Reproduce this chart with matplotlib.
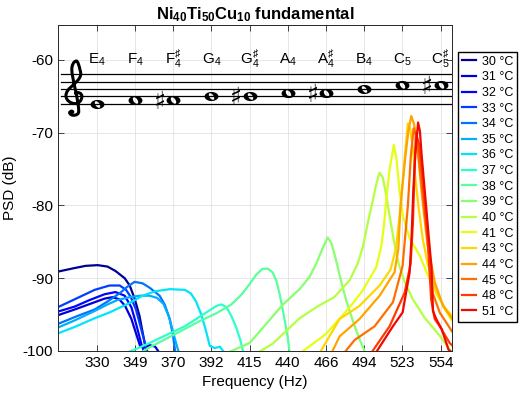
import numpy as np
import matplotlib
matplotlib.use('Agg')
import matplotlib.pyplot as plt
import matplotlib.ticker as ticker
from matplotlib.path import Path
from matplotlib.patches import PathPatch, Ellipse
from matplotlib.transforms import Affine2D

plt.rcParams['font.family'] = ['Liberation Sans', 'DejaVu Sans']
plt.rcParams['axes.unicode_minus'] = False
plt.rcParams['mathtext.fontset'] = 'custom'
plt.rcParams['mathtext.rm'] = 'Liberation Sans'
plt.rcParams['mathtext.bf'] = 'Liberation Sans:bold'
plt.rcParams['mathtext.it'] = 'Liberation Sans:italic'

# --- data ---
temps = [30, 31, 32, 33, 34, 35, 36, 37, 38, 39, 40, 41, 43, 44, 45, 48, 51]

f30 = [310.6, 318.7, 324.0, 330.0, 335.0, 339.0, 343.8, 346.4, 349.0, 351.6, 353.5, 355.5]
p30 = [-89.1, -88.6, -88.3, -88.2, -88.4, -89.0, -90.0, -91.0, -92.8, -95.2, -97.8, -100.5]

f31 = [310.6, 318.7, 328.5, 333.5, 337.5, 341.0, 344.0, 347.3, 350.0, 352.0, 354.3, 357.0, 360.0, 363.0]
p31 = [-95.1, -94.3, -93.3, -92.8, -92.6, -92.9, -93.8, -95.6, -97.8, -99.4, -99.5, -99.2, -99.4, -100.5]

f32 = [310.6, 318.7, 326.0, 333.5, 339.0, 343.8, 347.3, 350.0, 352.5, 354.5]
p32 = [-94.6, -93.9, -93.0, -92.2, -91.9, -92.4, -94.0, -96.5, -99.0, -100.5]

f33 = [310.6, 318.7, 328.5, 336.0, 341.2, 344.5, 347.0, 349.7, 353.0, 356.0]
p33 = [-94.0, -92.9, -91.6, -91.0, -91.0, -91.6, -92.6, -94.3, -97.5, -100.3]

f34 = [310.6, 320.0, 328.5, 335.0, 341.5, 345.0, 349.0, 353.2, 357.0, 362.4, 365.2, 368.0, 369.8, 371.2]
p34 = [-96.3, -95.2, -94.3, -93.2, -92.0, -91.2, -90.5, -90.7, -91.3, -92.4, -93.6, -95.6, -97.8, -100.3]

f35 = [310.6, 318.7, 328.5, 335.0, 340.0, 346.4, 352.0, 357.0, 361.0, 364.5, 367.5, 370.0, 372.0, 373.5]
p35 = [-96.8, -95.8, -94.5, -93.6, -93.0, -92.6, -92.4, -92.4, -92.7, -93.5, -95.2, -97.5, -99.3, -100.5]

f36 = [310.6, 318.7, 328.5, 336.0, 346.4, 353.2, 360.0, 368.0, 376.6, 380.0, 383.0, 386.0, 388.5, 391.0,
       394.0, 397.0, 400.0]
p36 = [-97.6, -96.7, -95.5, -94.7, -93.4, -92.4, -91.8, -91.5, -91.6, -92.1, -93.2, -95.0, -97.0, -99.3,
       -99.6, -99.4, -100.3]

f37 = [344.0, 350.0, 357.0, 367.0, 376.6, 385.0, 391.0, 395.0, 398.0, 401.0, 404.0, 407.0, 409.5, 411.5]
p37 = [-100.3, -99.7, -98.9, -97.7, -96.6, -95.3, -94.4, -93.8, -93.6, -94.0, -95.2, -96.8, -98.5, -100.3]

f38 = [351.6, 357.0, 370.0, 385.0, 395.0, 404.0, 410.0, 415.3, 419.5, 423.5, 427.0, 430.0, 432.5, 434.6,
       436.5, 438.0, 439.8, 441.2]
p38 = [-100.3, -99.5, -97.8, -95.9, -94.8, -93.6, -92.3, -90.8, -89.5, -88.7, -88.7, -89.2, -90.4, -92.2,
       -94.2, -95.9, -98.0, -100.2]

f39 = [401.0, 415.3, 436.8, 447.9, 454.7, 459.3, 463.5, 467.3, 470.0, 473.4, 477.0, 480.7, 484.5, 488.0,
       491.2, 494.1]
p39 = [-100.3, -98.9, -93.6, -91.5, -89.8, -88.0, -86.0, -84.4, -85.2, -87.6, -90.5, -93.1, -95.3, -97.2,
       -98.7, -100.0]

f40 = [420.0, 430.0, 447.9, 460.0, 472.0, 483.1, 489.0, 492.9, 497.0, 500.4, 503.0, 505.5, 508.0, 510.5,
       513.2, 516.5, 519.9, 525.0, 531.6, 541.0, 553.6, 562.0, 566.0]
p40 = [-100.3, -99.0, -95.5, -93.9, -92.6, -90.3, -88.0, -85.7, -82.0, -79.3, -77.0, -75.5, -76.2, -78.5,
       -81.4, -84.8, -87.8, -90.5, -92.9, -95.4, -97.9, -99.8, -100.5]

f41 = [448.9, 465.9, 483.1, 492.7, 502.9, 506.9, 509.0, 510.6, 513.2, 516.5, 518.5, 521.0, 523.6, 529.0,
       537.1, 543.6, 550.7, 557.8, 563.6, 566.0]
p41 = [-100.2, -97.7, -94.0, -91.7, -88.5, -85.5, -82.5, -79.3, -75.0, -71.7, -73.5, -78.0, -81.4, -84.5,
       -86.9, -89.5, -92.0, -94.2, -95.8, -96.2]

f43 = [461.6, 475.8, 490.4, 505.5, 514.0, 518.0, 521.0, 523.4, 525.5, 527.6, 529.5, 531.5, 533.5, 536.0,
       539.5, 543.6, 550.7, 557.8, 566.0]
p43 = [-100.3, -95.6, -93.8, -91.0, -88.8, -86.0, -81.5, -77.0, -72.5, -68.7, -69.5, -72.0, -76.0, -80.0,
       -84.5, -88.0, -92.0, -94.0, -95.6]

f44 = [470.0, 475.8, 490.4, 505.5, 517.0, 520.0, 521.8, 523.4, 525.7, 528.0, 530.3, 532.5, 534.6, 537.1,
       539.8, 543.6, 549.6, 556.4, 566.0]
p44 = [-100.3, -98.0, -95.6, -92.4, -89.2, -86.0, -80.0, -77.0, -73.1, -69.8, -67.7, -68.8, -70.8, -75.4,
       -80.0, -85.5, -90.6, -93.8, -96.0]

f45 = [479.0, 486.7, 501.7, 515.8, 523.4, 527.6, 530.0, 532.2, 534.6, 537.5, 541.4, 544.3, 547.7, 553.6, 566.0]
p45 = [-100.3, -98.5, -96.6, -93.3, -88.3, -80.0, -73.1, -69.4, -70.5, -75.4, -81.5, -86.0, -92.0, -94.7, -97.8]

f48 = [497.9, 513.2, 525.0, 529.8, 531.6, 532.8, 534.0, 536.5, 539.5, 541.5, 543.6, 546.5, 549.4, 553.6,
       562.0, 566.0]
p48 = [-100.6, -96.6, -92.0, -88.0, -82.5, -76.0, -70.0, -71.5, -76.5, -80.5, -84.6, -92.9, -95.6, -96.6,
       -98.9, -99.5]

f51 = [501.7, 515.8, 523.4, 529.0, 530.5, 532.0, 533.5, 535.8, 537.3, 538.7, 542.3, 544.6, 546.8, 548.0,
       550.7, 555.3, 561.0, 566.0]
p51 = [-100.5, -96.6, -94.7, -89.2, -84.5, -77.7, -73.1, -68.6, -69.8, -73.1, -80.0, -84.5, -88.5, -94.5,
       -95.6, -97.0, -99.8, -100.5]

freqs = [f30, f31, f32, f33, f34, f35, f36, f37, f38, f39, f40, f41, f43, f44, f45, f48, f51]
psds = [p30, p31, p32, p33, p34, p35, p36, p37, p38, p39, p40, p41, p43, p44, p45, p48, p51]

# notes on the staff
note_freqs = [329.63, 349.23, 369.99, 392.00, 415.30, 440.00, 466.16, 493.88, 523.25, 554.37]
note_labels = [r'E$_4$', r'F$_4$', r'F$^\sharp_4$', r'G$_4$', r'G$^\sharp_4$', r'A$_4$',
               r'A$^\sharp_4$', r'B$_4$', r'C$_5$', r'C$^\sharp_5$']
note_staff = [-66, -65.5, -65.5, -65, -65, -64.5, -64.5, -64, -63.5, -63.5]
note_sharp = [False, False, True, False, True, False, True, False, False, True]
tick_labels = ['330', '349', '370', '392', '415', '440', '466', '494', '523', '554']
staff_lines = [-62, -63, -64, -65, -66]

# --- figure ---
fig = plt.figure(figsize=(5.2, 3.96), dpi=100)
ax = fig.add_axes([58/520, 1 - 351/396, (452 - 58)/520, (351 - 25)/396])
ax.set_xscale('log')
ax.set_xlim(310.8, 564)
ax.set_ylim(-100, -55.2)

colors = plt.cm.jet(np.linspace(0.02, 0.9, len(temps)))
lines = []
for f, p, c, t in zip(freqs, psds, colors, temps):
    ln, = ax.plot(f, p, color=c, lw=1.6, label=f'{t} °C')
    lines.append(ln)

# staff
for y in staff_lines:
    ax.plot([312.3, 570], [y, y], color='k', lw=0.9)

# whole-note marker: oval with a tilted hole
t = np.linspace(0, 2*np.pi, 41)
outer = np.c_[1.45*np.cos(t), 0.95*np.sin(t)]
rot = np.deg2rad(35)
ix, iy = 0.42*np.cos(t), 0.78*np.sin(t)
inner = np.c_[ix*np.cos(rot) - iy*np.sin(rot), ix*np.sin(rot) + iy*np.cos(rot)][::-1]
codes = [Path.MOVETO] + [Path.LINETO]*39 + [Path.CLOSEPOLY]
note_marker = Path(np.vstack([outer, inner]), codes + codes)

ax.plot(note_freqs, note_staff, ls='none', marker=note_marker, ms=10, color='k', mew=0)
for f, y, lab, sh in zip(note_freqs, note_staff, note_labels, note_sharp):
    ax.text(f, -60.5, lab, ha='center', va='baseline', fontsize=11)
    if sh:
        ax.annotate('\u266f', (f, y), xytext=(-9.5, -1.5), textcoords='offset points',
                    ha='center', va='center', fontsize=18, family='DejaVu Sans')

# treble clef drawn as a bezier stroke, units = staff spaces, origin on the bottom line
C4 = Path.CURVE4
clef_verts = [(0.10, 1.40),
              (0.35, 1.65), (0.80, 1.45), (0.80, 1.00),
              (0.80, 0.40), (0.45, 0.00), (0.05, 0.00),
              (-0.45, 0.00), (-0.95, 0.45), (-0.95, 1.10),
              (-0.95, 2.00), (0.00, 2.60), (0.35, 3.20),
              (0.70, 3.70), (0.75, 4.10), (0.60, 4.60),
              (0.50, 5.20), (0.35, 5.85), (0.20, 5.85),
              (-0.10, 5.85), (-0.35, 5.20), (-0.30, 4.60),
              (-0.30, 3.50), (0.45, 0.50), (0.45, -1.00),
              (0.50, -1.40), (0.20, -1.65), (-0.20, -1.60),
              (-0.45, -1.55), (-0.55, -1.35), (-0.55, -1.20)]
clef_codes = [Path.MOVETO] + [C4]*30
x0, y0 = ax.transData.transform((318.7, -66))
space = ax.transData.transform((318.7, -65))[1] - y0
clef_tr = Affine2D().scale(space*1.25, space).translate(x0, y0)
ax.add_artist(PathPatch(Path(clef_verts, clef_codes), transform=clef_tr, fc='none',
                        ec='k', lw=2.2, capstyle='round', clip_on=False))
ax.add_artist(Ellipse((-0.33, -1.15), 0.6, 0.65, transform=clef_tr, fc='k', ec='none',
                      clip_on=False))

ax.set_xticks(note_freqs)
ax.set_xticklabels(tick_labels)
ax.xaxis.set_minor_locator(ticker.NullLocator())
ax.set_yticks([-100, -90, -80, -70, -60])
ax.tick_params(direction='in', top=True, right=True, length=4, width=0.6,
               labelsize=11, color='#262626')
ax.grid(True, color='#e2e2e2', lw=0.6)
ax.set_axisbelow(True)
for s in ax.spines.values():
    s.set_color('#262626')
    s.set_linewidth(0.7)

ax.set_xlabel('Frequency (Hz)', fontsize=11)
ax.set_ylabel('PSD (dB)', fontsize=11)
ax.set_title(r'Ni$_\mathbf{40}$Ti$_\mathbf{50}$Cu$_\mathbf{10}$ fundamental',
             fontsize=12, fontweight='bold', pad=4)

fig.legend(lines, [ln.get_label() for ln in lines], loc='upper left',
           bbox_to_anchor=(458/520, 1 - 52/396), borderaxespad=0, fontsize=9,
           handlelength=1.1, handletextpad=0.5, labelspacing=0.29, borderpad=0.3,
           fancybox=False, edgecolor='k', framealpha=1)

fig.savefig('out.png', dpi=100)
